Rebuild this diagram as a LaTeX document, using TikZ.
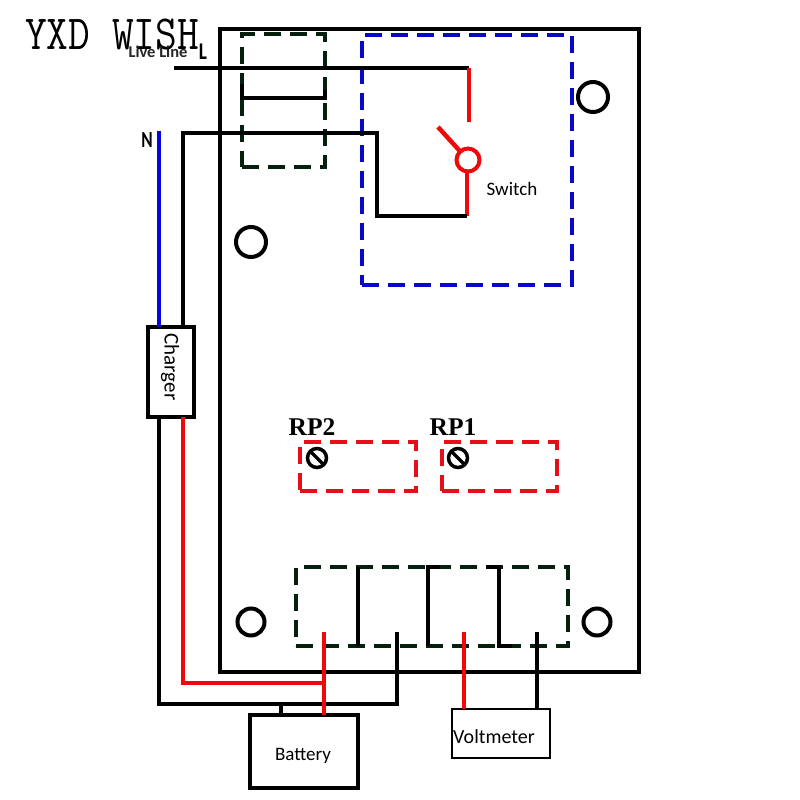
\documentclass[tikz,border=0pt]{standalone}
\usepackage{fontspec}
\setmainfont{Carlito}
\newfontfamily\rpfont{Liberation Serif}
\definecolor{dkgreen}{HTML}{06200F}
\definecolor{wirered}{HTML}{EE0A0A}
\definecolor{dashblue}{HTML}{0808C8}
\definecolor{dashred}{HTML}{E60F19}
\tikzset{
  box/.style={draw=black,fill=white,inner sep=0pt,outer sep=0pt,line width=4pt},
  dbox/.style={draw=#1,inner sep=0pt,outer sep=0pt,line width=4pt,dash pattern=on 17pt off 9pt},
  wire/.style={line width=4pt,line join=miter,draw=black},
  redwire/.style={line width=4.5pt,draw=wirered,line join=miter},
  hole/.style={circle,draw=black,line width=4pt,inner sep=0pt,outer sep=0pt},
  screw/.style={circle,draw=black,line width=3.5pt,inner sep=0pt,outer sep=0pt,minimum size=19pt},
  lbl/.style={inner sep=0pt,font=\fontsize{19}{21}\selectfont,text=black},
  rplbl/.style={inner sep=0pt,font=\rpfont\bfseries\fontsize{25.5}{27}\selectfont}
}
\begin{document}
\begin{tikzpicture}[x=1pt,y=-1pt]
\useasboundingbox (0,0) rectangle (800,800);
\fill[white] (0,0) rectangle (800,800);
% board
\node[box,line width=4.5pt,minimum width=419pt,minimum height=643pt] (board) at (429.5,350.5) {};
% holes
\node[hole,minimum size=30pt] (h1) at (593,97) {};
\node[hole,minimum size=30pt] (h2) at (251,242) {};
\node[hole,minimum size=27pt] (h3) at (251,622) {};
\node[hole,minimum size=27pt] (h4) at (597,622) {};
% dashed boxes
\node[dbox=dkgreen,minimum width=83pt,minimum height=133pt] (relay) at (283.5,100.5) {};
\node[dbox=dashblue,minimum width=210pt,minimum height=250pt] (swbox) at (467,160) {};
\node[dbox=dashred,minimum width=116pt,minimum height=49pt] (rp2box) at (358,466.5) {};
\node[dbox=dashred,minimum width=115pt,minimum height=49pt] (rp1box) at (499.5,466.5) {};
\node[dbox=dkgreen,minimum width=272pt,minimum height=79pt] (term) at (432,606.5) {};
% relay inner link
\draw[wire,line width=3.5pt] (relay.west |- 0,84) -- (relay.west |- 0,98) -- (relay.east |- 0,98) -- (relay.east |- 0,90);
% terminal inner dividers
\draw[wire,line width=3.5pt] (358,567) -- (358,646);
\draw[wire,line width=3.5pt] (440,567) -- (428,567) -- (428,646);
\draw[wire,line width=3.5pt] (486,567) -- (499,567) -- (499,646) -- (512,646);
% screws
\node[screw] (s2) at (317,458) {};
\node[screw] (s1) at (458,458) {};
\draw[black,line width=3.5pt] (s2.north west) -- (s2.south east);
\draw[black,line width=3.5pt] (s1.north west) -- (s1.south east);
\node[rplbl] (rp2) at (312,427) {RP2};
\node[rplbl] (rp1) at (453,427) {RP1};
% external boxes
\node[box,minimum width=46pt,minimum height=90pt] (charger) at (171,372) {};
\node[lbl,rotate=-90,font=\fontsize{21}{23}\selectfont] (chargerl) at (170,367) {Charger};
\node[box,minimum width=108pt,minimum height=73pt] (battery) at (304,751.5) {};
\node[lbl] (batteryl) at (303,756) {Battery};
\node[box,line width=2pt,minimum width=98pt,minimum height=49pt] (volt) at (501,733.5) {};
\node[lbl,font=\fontsize{20}{22}\selectfont] (voltl) at (494,737) {Voltmeter};
% labels
\node[inner sep=0pt,font=\ttfamily\fontsize{49}{51}\selectfont,xscale=0.86] (title) at (112,35) {YXD WISH};
\node[inner sep=0pt,font=\bfseries\fontsize{16.5}{18}\selectfont,text=black!85] (live) at (158,52) {Live Line};
\node[inner sep=0pt,font=\bfseries\fontsize{24}{26}\selectfont,xscale=0.8] (lname) at (203,52) {L};
\node[inner sep=0pt,font=\bfseries\fontsize{23}{25}\selectfont,xscale=0.75] (nname) at (147,140) {N};
\node[lbl] (swl) at (512,189) {Switch};
% switch
\node[circle,draw=wirered,fill=white,line width=4pt,inner sep=0pt,outer sep=0pt,minimum size=23pt] (pivot) at (468,160) {};
\coordinate (cont) at (469,122);
\coordinate (arm) at (438,127);
\coordinate (lstart) at (174,68);
\coordinate (lend) at (469,68);
\coordinate (swlow) at (467,216);
% L wire
\draw[wire] (lstart) -- (lend);
\draw[redwire] (lend) -- (cont);
\draw[redwire] (pivot) -- (arm);
\draw[redwire] (pivot.south -| swlow) -- (swlow);
% N wire
\draw[wire] (charger.north -| 183,0) -- (183,133) -- (377,133) -- (377,216) -- (swlow);
\coordinate (ntop) at (159,131);
\draw[line width=4.5pt,draw=dashblue!70!blue] (ntop) -- (ntop |- charger.north);
% charger down
\coordinate (bj) at (324,683);
\coordinate (tbplus) at (324,632);
\coordinate (tbminus) at (397,632);
\coordinate (vplus) at (464,632);
\coordinate (vminus) at (537,632);
\draw[wire] (charger.south -| 159,0) -- (159,704) -- (397,704) -- (tbminus);
\draw[wire] (281,704) -- (281,714);
\draw[redwire] (charger.south -| 183,0) -- (183,683) -- (bj);
\draw[redwire] (tbplus) -- (tbplus |- battery.north);
\draw[redwire] (vplus) -- (vplus |- volt.north);
\draw[wire] (vminus) -- (vminus |- volt.north);
\end{tikzpicture}
\end{document}
